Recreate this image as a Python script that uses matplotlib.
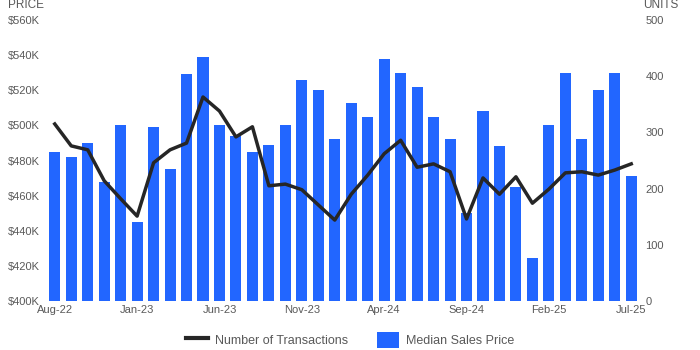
import numpy as np
import matplotlib.pyplot as plt
from matplotlib.lines import Line2D
from matplotlib.patches import Patch

plt.rcParams['font.family'] = ['Liberation Sans', 'DejaVu Sans']

months = ['Aug-22', 'Sep-22', 'Oct-22', 'Nov-22', 'Dec-22', 'Jan-23', 'Feb-23', 'Mar-23',
          'Apr-23', 'May-23', 'Jun-23', 'Jul-23', 'Aug-23', 'Sep-23', 'Oct-23', 'Nov-23',
          'Dec-23', 'Jan-24', 'Feb-24', 'Mar-24', 'Apr-24', 'May-24', 'Jun-24', 'Jul-24',
          'Aug-24', 'Sep-24', 'Oct-24', 'Nov-24', 'Dec-24', 'Jan-25', 'Feb-25', 'Mar-25',
          'Apr-25', 'May-25', 'Jun-25', 'Jul-25']

# median sales price, $K
median_price = [485, 482, 490, 468, 500, 445, 499, 475, 529, 539, 500, 494,
                485, 489, 500, 526, 520, 492, 513, 505, 538, 530, 522, 505,
                492, 450, 508, 488, 465, 424.5, 500, 530, 492, 520, 530, 471]

# number of transactions
transactions = [315, 276, 269, 214, 182, 151, 246, 269, 281, 363, 338, 292,
                310, 205, 208, 198, 171, 144, 190, 224, 262, 286, 238, 244,
                230, 146, 219, 190, 221, 174, 199, 228, 230, 224, 233, 244]

bar_color = '#2266FF'
line_color = '#262626'
text_color = '#595959'

fig = plt.figure(figsize=(7, 3.5), dpi=100)
ax = fig.add_axes([49 / 700, 1 - 301 / 350, 588 / 700, 281 / 350])
ax2 = ax.twinx()

x = np.arange(len(months))
ax.bar(x, median_price, width=0.67, color=bar_color, bottom=0)
ax.set_ylim(400, 560)
ax.set_xlim(-0.35, len(months) - 0.65)
ax.set_yticks(np.arange(400, 561, 20))
ax.set_yticklabels([f'${v}K' for v in range(400, 561, 20)])

ax2.plot(x, transactions, color=line_color, linewidth=2.5)
ax2.set_ylim(0, 500)
ax2.set_yticks(np.arange(0, 501, 100))

ax.set_xticks(x[::5])
ax.set_xticklabels(months[::5])

for a in (ax, ax2):
    for s in a.spines.values():
        s.set_visible(False)
    a.tick_params(length=0, labelsize=8, colors=text_color)
ax.tick_params(axis='y', pad=6.5)
ax2.tick_params(axis='y', pad=6)
ax.tick_params(axis='x', pad=3)

fig.text(8 / 700, 1 - 5 / 350, 'PRICE', fontsize=8.5, color=text_color, va='center', ha='left')
fig.text(643 / 700, 1 - 5 / 350, 'UNITS', fontsize=8.5, color=text_color, va='center', ha='left')

handles = [Line2D([0], [0], color=line_color, linewidth=3),
           Patch(facecolor=bar_color)]
fig.legend(handles, ['Number of Transactions', 'Median Sales Price'],
           loc='center', bbox_to_anchor=(0.5, 1 - 340 / 350), ncol=2, frameon=False,
           fontsize=9, labelcolor=text_color, handlelength=1.76, handleheight=1.6,
           columnspacing=2.3, handletextpad=0.56, borderpad=0)

fig.savefig('out.png', dpi=100)
